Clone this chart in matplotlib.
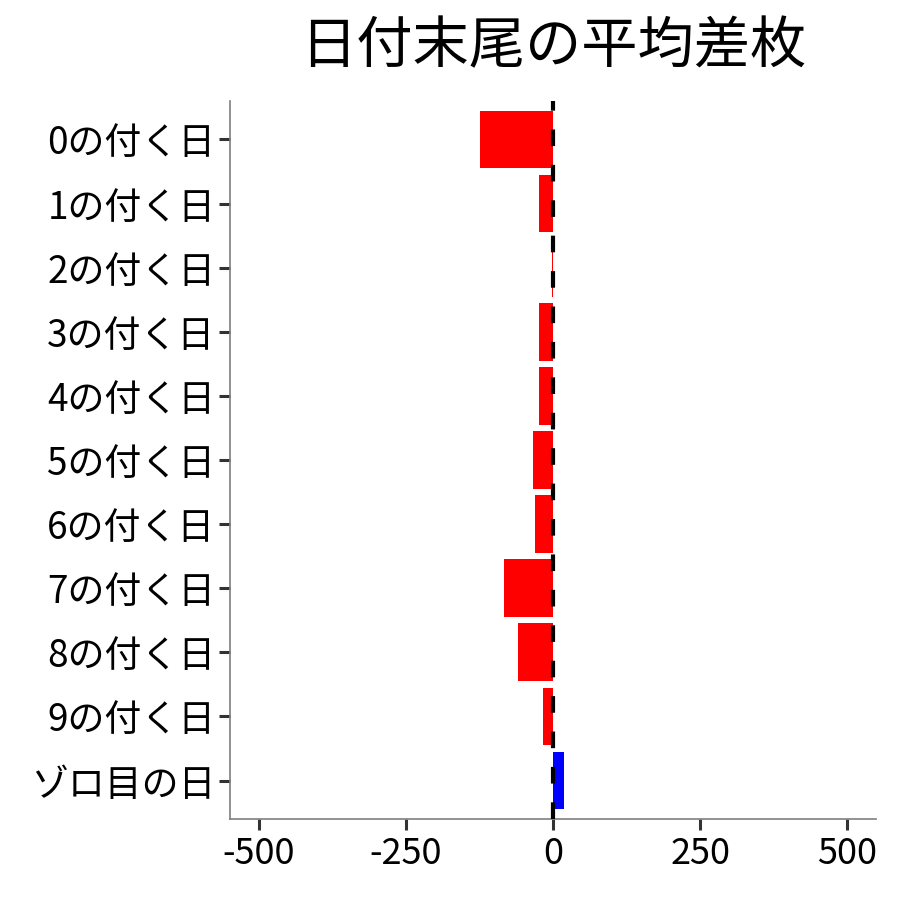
import matplotlib
matplotlib.use("Agg")
import matplotlib.pyplot as plt
import numpy as np

plt.rcParams['font.family'] = ['Noto Sans CJK JP', 'DejaVu Sans']

categories = ["0の付く日", "1の付く日", "2の付く日", "3の付く日", "4の付く日",
              "5の付く日", "6の付く日", "7の付く日", "8の付く日", "9の付く日", "ゾロ目の日"]
values = [-124, -24, -1, -24, -24, -34, -31, -83, -60, -17, 19]
xticks = [-500, -250, 0, 250, 500]
xticklabels = ["-500", "-250", "0", "250", "500"]
title = "日付末尾の平均差枚"

colors = ["#0000FF" if v > 0 else "#FF0000" for v in values]

fig = plt.figure(figsize=(9, 9), dpi=100)
ax = fig.add_axes([230/900, 1-819/900, (876-230)/900, (819-101)/900])

y = np.arange(len(categories))
ax.barh(y, values, height=0.9, color=colors, zorder=2)
ax.axvline(0, color="black", linewidth=3.0, linestyle=(0, (4.0, 4.5)), zorder=3)

ax.set_ylim(len(categories) - 0.4, -0.6)
ax.set_xlim(-549, 549)
ax.set_yticks(y)
ax.set_yticklabels(categories, fontsize=26.6, color="black")
ax.set_xticks(xticks)
ax.set_xticklabels(xticklabels, fontsize=26, color="black")

for s in ["top", "right"]:
    ax.spines[s].set_visible(False)
for s in ["left", "bottom"]:
    ax.spines[s].set_color("#7f7f7f")
    ax.spines[s].set_linewidth(1.2)
ax.tick_params(axis="both", length=8, width=2.2, color="#333333", pad=4)
ax.tick_params(axis="y", pad=2.5)

fig.text(553/900, 1-47/900, title, fontsize=40.5, ha="center", va="center")

fig.savefig("out.png", dpi=100, facecolor="white")
